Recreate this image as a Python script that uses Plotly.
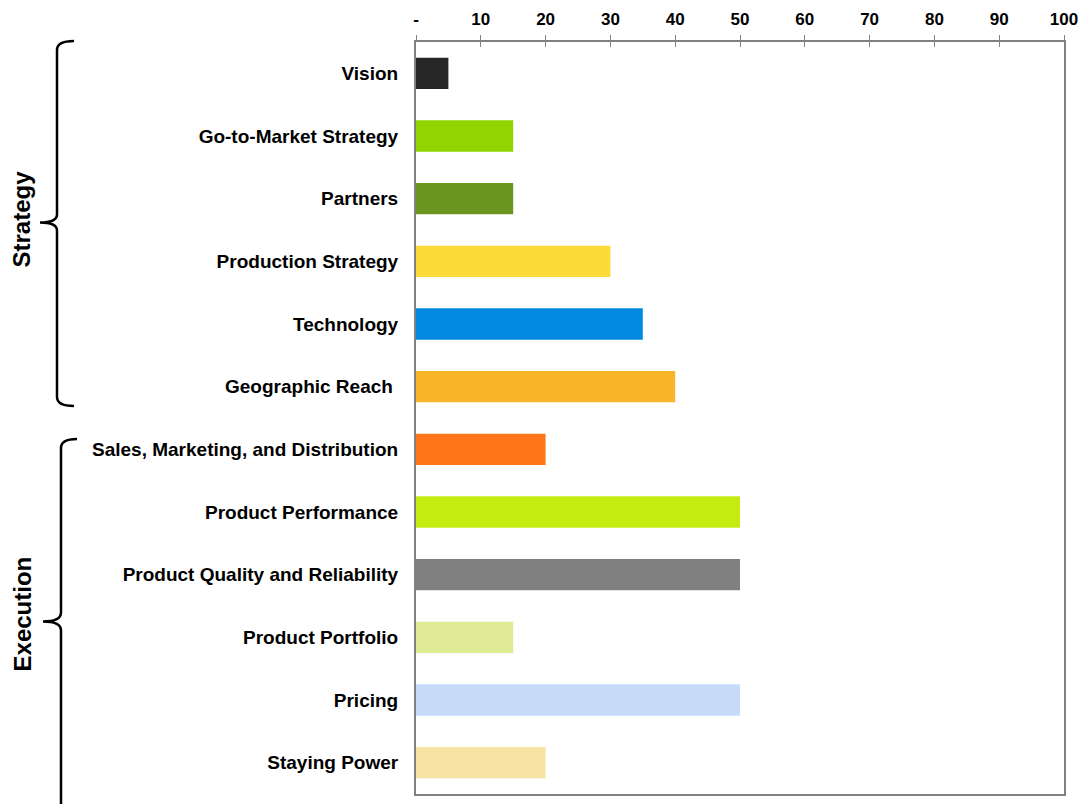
import plotly.graph_objects as go

categories = ["Vision", "Go-to-Market Strategy", "Partners", "Production Strategy",
              "Technology", "Geographic Reach ", "Sales, Marketing, and Distribution",
              "Product Performance", "Product Quality and Reliability", "Product Portfolio",
              "Pricing", "Staying Power"]
values = [5, 15, 15, 30, 35, 40, 20, 50, 50, 15, 50, 20]
colors = ["#262626", "#92D400", "#6A961F", "#FDDB37", "#008BE0", "#F9B527",
          "#FF7518", "#C5EC10", "#808080", "#DFEB95", "#C6DBF7", "#F7E3A3"]
tick_vals = [0, 10, 20, 30, 40, 50, 60, 70, 80, 90, 100]
tick_text = ["-", "10", "20", "30", "40", "50", "60", "70", "80", "90", "100"]
groups = ["Strategy", "Execution"]

W, H = 1086, 804
L, R, T, B = 416, 22, 42, 8
PW, PH = W - L - R, H - T - B
FONT = "Arial, Liberation Sans, sans-serif"

def px(x):
    return (x - L) / PW

def py(y):
    return (H - B - y) / PH

fig = go.Figure()
fig.add_trace(go.Bar(
    x=values, y=categories, orientation="h",
    marker=dict(color=colors, line=dict(width=0)),
    width=0.5, showlegend=False, hoverinfo="x+y",
))
# invisible trace for second overlay axis (inside tick marks)
fig.add_trace(go.Scatter(x=[0, 100], y=[categories[0], categories[0]], xaxis="x2",
                         mode="markers", marker=dict(opacity=0, size=1), showlegend=False,
                         hoverinfo="skip"))

n = len(categories)
fig.update_layout(
    width=W, height=H,
    margin=dict(l=L, r=R, t=T, b=B, pad=0),
    paper_bgcolor="white", plot_bgcolor="white",
    font=dict(family=FONT, size=19, color="black"),
    bargap=0.5,
    xaxis=dict(
        side="top", range=[0, 100], tickvals=tick_vals, ticktext=tick_text,
        ticks="outside", ticklen=5, tickwidth=1, tickcolor="#808080",
        showline=True, linecolor="#808080", linewidth=2, mirror=True,
        showgrid=False, zeroline=False, ticklabelstandoff=3,
        tickfont=dict(family=FONT, size=17, color="black", weight="bold"),
        fixedrange=True,
    ),
    xaxis2=dict(
        overlaying="x", side="top", range=[0, 100], tickvals=tick_vals,
        ticks="inside", ticklen=5, tickwidth=1, tickcolor="#808080",
        showticklabels=False, showline=False, showgrid=False, zeroline=False,
    ),
    yaxis=dict(
        categoryorder="array", categoryarray=categories, range=[n - 0.5, -0.5],
        showline=True, linecolor="#808080", linewidth=2, mirror=True,
        ticks="", showgrid=False, zeroline=False, ticklabelstandoff=12,
        tickfont=dict(family=FONT, size=19, color="black", weight="bold"),
    ),
)

def q(x, y):
    return f"{px(x):.5f},{py(y):.5f}"

brace1 = (f"M {q(74,41)} Q {q(57,41)} {q(57,50)} L {q(57,215)} Q {q(57,223)} {q(40,223)} "
          f"Q {q(57,223)} {q(57,231)} L {q(57,398)} Q {q(57,407)} {q(74,407)}")
brace2 = (f"M {q(77,440)} Q {q(61,440)} {q(61,449)} L {q(61,614)} Q {q(61,623)} {q(43,623)} "
          f"Q {q(61,623)} {q(61,632)} L {q(61,830)}")
for p in (brace1, brace2):
    fig.add_shape(type="path", path=p, xref="paper", yref="paper",
                  line=dict(color="black", width=2.5))

fig.add_annotation(text=groups[0], x=px(22), y=py(220), xref="paper", yref="paper",
                   textangle=-90, showarrow=False, xanchor="center", yanchor="middle",
                   font=dict(family=FONT, size=24, color="black", weight="bold"))
fig.add_annotation(text=groups[1], x=px(22), y=py(616), xref="paper", yref="paper",
                   textangle=-90, showarrow=False, xanchor="center", yanchor="middle",
                   font=dict(family=FONT, size=24, color="black", weight="bold"))

fig.write_html("out.html")
